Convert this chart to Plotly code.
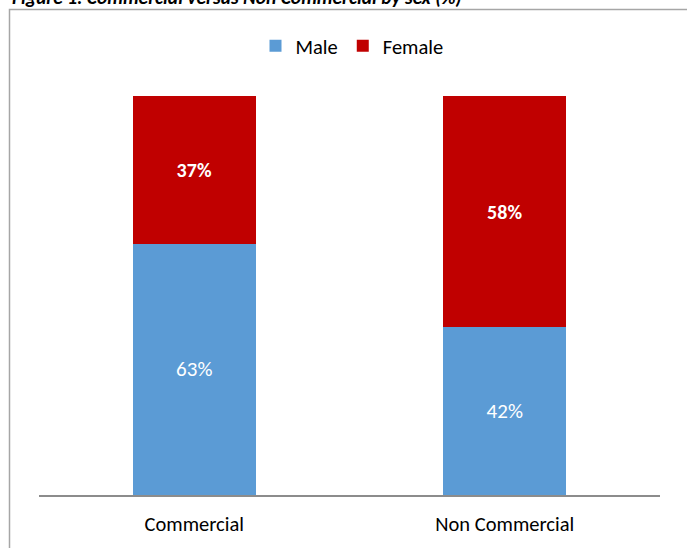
import plotly.graph_objects as go

# Share of commercial vs non-commercial by sex
categories = ["Commercial", "Non Commercial"]
male = [0.63, 0.42]
female = [0.37, 0.58]
series_names = ["Male", "Female"]
title_text = "Figure 1: Commercial versus Non Commercial by sex (%)"

FONT = "Carlito, Lato, 'Open Sans', sans-serif"
MALE_COLOR = "#5b9bd5"
FEMALE_COLOR = "#c00000"

# plot-area pixel geometry (canvas 687 x 548)
W, H = 687, 548
L, R, T, B = 39, 27, 96, 53
plot_h = H - T - B
plot_w = W - L - R


def py(pix):
    """pixel row -> paper y"""
    return (H - B - pix) / plot_h


def px(pix):
    """pixel column -> paper x"""
    return (pix - L) / plot_w


fig = go.Figure()
fig.add_trace(go.Bar(
    x=categories, y=male, name=series_names[0],
    marker=dict(color=MALE_COLOR, line=dict(width=0)),
    texttemplate="%{y:.0%}", textposition="inside", insidetextanchor="middle",
    textangle=0, textfont=dict(color="white", size=21, family=FONT),
    hoverinfo="skip",
))
fig.add_trace(go.Bar(
    x=categories, y=female, name=series_names[1],
    marker=dict(color=FEMALE_COLOR, line=dict(width=0)),
    texttemplate="<b>%{y:.0%}</b>", textposition="inside", insidetextanchor="middle",
    textangle=0, textfont=dict(color="white", size=20, family=FONT),
    hoverinfo="skip",
))

# outer chart frame
fig.add_shape(
    type="rect", xref="paper", yref="paper",
    x0=px(9.5), y0=py(560), x1=px(700), y1=py(9.5),
    line=dict(color="#a6a6a6", width=1.5), fillcolor="rgba(0,0,0,0)", layer="below",
)

fig.add_annotation(
    text=f"<b><i>{title_text}</i></b>", xref="paper", yref="paper",
    x=px(10), y=py(-3), xanchor="left", yanchor="middle", showarrow=False,
    font=dict(family=FONT, size=19.5, color="black"),
)

fig.update_layout(
    width=W, height=H,
    margin=dict(l=L, r=R, t=T, b=B, pad=0),
    barmode="stack", bargap=0.605,
    plot_bgcolor="white", paper_bgcolor="white",
    font=dict(family=FONT, size=16, color="black"),
    showlegend=True,
    legend=dict(
        orientation="h", x=px(352), y=py(46), xanchor="center", yanchor="middle",
        font=dict(family=FONT, size=20.5, color="black"), itemwidth=30,
        traceorder="normal",
    ),
    xaxis=dict(
        showline=True, linecolor="#8c8c8c", linewidth=1.5, ticks="",
        showgrid=False, zeroline=False, tickfont=dict(size=20.5), ticklabelstandoff=10,
    ),
    yaxis=dict(
        range=[0, 1], visible=False, showgrid=False, zeroline=False,
    ),
)

fig.write_html("out.html")
